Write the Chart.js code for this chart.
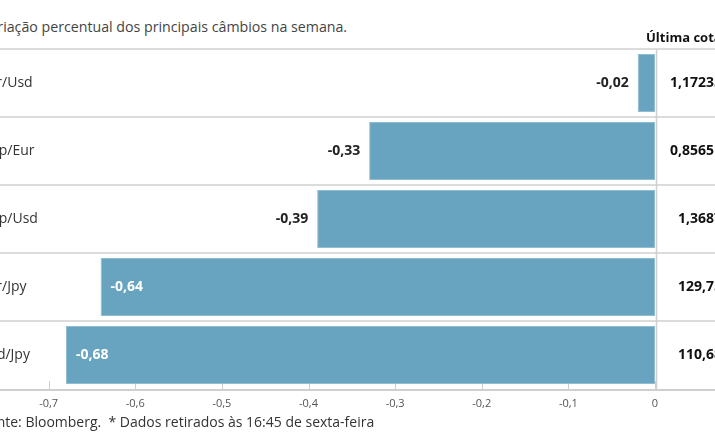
<!DOCTYPE html>
<html>
<head>
<meta charset="utf-8">
<script src="https://cdn.jsdelivr.net/npm/chart.js@4.4.1/dist/chart.umd.min.js"></script>
<style>
  html, body { margin: 0; padding: 0; background: #fff; }
  body { width: 715px; height: 445px; overflow: hidden; position: relative; font-family: 'Open Sans', sans-serif; }
  #title { position: absolute; left: -19px; top: 18px; font-size: 14.2px; line-height: 18px; color: #444; white-space: nowrap; }
  #note { position: absolute; left: -19px; top: 413px; font-size: 14px; line-height: 18px; color: #333; white-space: nowrap; }
  #wrap { position: absolute; left: -60px; top: 0; width: 840px; height: 445px; }
</style>
</head>
<body>
<div id="title">Variação percentual dos principais câmbios na semana.</div>
<div id="wrap"><canvas id="chart"></canvas></div>
<div id="note">Fonte: Bloomberg.&nbsp; * Dados retirados às 16:45 de sexta-feira</div>
<script>
// Câmbios — variação semanal

var categories = ['Eur/Usd', 'Gbp/Eur', 'Gbp/Usd', 'Eur/Jpy', 'Usd/Jpy'];
var changes = [-0.02, -0.33, -0.39, -0.64, -0.68];
var quotes = ['1,17235', '0,85651', '1,3687', '129,75', '110,68'];
var quoteHeader = 'Última cotação*';

var FONT = "'Open Sans', sans-serif";
var COLORS = {
  bar: '#68a3bf',
  barEdge: '#8fbdd2',
  grid: '#dcdcdc',
  axis: '#cfcfcf',
  text: '#333',
  tick: '#555'
};

function fmt(n) {
  if (n === 0) return '0';
  return n.toFixed(2).replace('.', ',');
}

var tablePlugin = {
  id: 'tablePlugin',
  beforeDatasetsDraw: function (chart) {
    var ctx = chart.ctx, area = chart.chartArea;
    var ys = chart.scales.y, xs = chart.scales.x;
    var w = chart.width;
    ctx.save();
    // row separators
    ctx.strokeStyle = COLORS.grid;
    ctx.lineWidth = 2;
    var bounds = [area.top];
    for (var i = 0; i < categories.length - 1; i++) {
      bounds.push((ys.getPixelForValue(i) + ys.getPixelForValue(i + 1)) / 2);
    }
    bounds.forEach(function (y) {
      ctx.beginPath();
      ctx.moveTo(0, y);
      ctx.lineTo(w, y);
      ctx.stroke();
    });
    // axis line
    ctx.strokeStyle = COLORS.axis;
    ctx.beginPath();
    ctx.moveTo(0, area.bottom + 1);
    ctx.lineTo(w, area.bottom + 1);
    ctx.stroke();
    // column divider at zero
    var x0 = xs.getPixelForValue(0) + 1.5;
    ctx.lineWidth = 1.5;
    ctx.beginPath();
    ctx.moveTo(x0, area.top);
    ctx.lineTo(x0, area.bottom + 1);
    ctx.stroke();
    // tick marks pointing up
    ctx.lineWidth = 1;
    xs.ticks.forEach(function (t) {
      var x = Math.round(xs.getPixelForValue(t.value)) + 0.5;
      ctx.beginPath();
      ctx.moveTo(x, area.bottom - 8);
      ctx.lineTo(x, area.bottom);
      ctx.stroke();
    });
    ctx.restore();
  },
  afterDatasetsDraw: function (chart) {
    var ctx = chart.ctx, area = chart.chartArea;
    var ys = chart.scales.y, xs = chart.scales.x;
    var meta = chart.getDatasetMeta(0);
    var x0 = xs.getPixelForValue(0);
    ctx.save();
    ctx.textBaseline = 'middle';
    categories.forEach(function (c, i) {
      var y = ys.getPixelForValue(i);
      // category label
      ctx.font = '14px ' + FONT;
      ctx.fillStyle = COLORS.text;
      ctx.textAlign = 'left';
      ctx.fillText(c, 40, y);
      // value label
      var bar = meta.data[i];
      ctx.font = 'bold 14px ' + FONT;
      if (bar.base - bar.x > 450) {
        ctx.fillStyle = '#fff';
        ctx.textAlign = 'left';
        ctx.fillText(fmt(changes[i]), bar.x + 10, y);
      } else {
        ctx.fillStyle = '#222';
        ctx.textAlign = 'right';
        ctx.fillText(fmt(changes[i]), bar.x - 9, y);
      }
      // last quote
      ctx.fillStyle = '#111';
      ctx.textAlign = 'right';
      ctx.fillText(quotes[i], x0 + 67, y);
    });
    ctx.font = 'bold 13px ' + FONT;
    ctx.fillStyle = '#111';
    ctx.textAlign = 'left';
    ctx.textBaseline = 'alphabetic';
    ctx.fillText(quoteHeader, x0 - 9, area.top - 7);
    ctx.restore();
  }
};

new Chart(document.getElementById('chart'), {
  type: 'bar',
  data: {
    labels: categories,
    datasets: [{
      data: changes,
      backgroundColor: COLORS.bar,
      borderColor: COLORS.barEdge,
      borderWidth: 1,
      borderSkipped: false,
      barPercentage: 0.855,
      categoryPercentage: 1
    }]
  },
  options: {
    indexAxis: 'y',
    responsive: true,
    maintainAspectRatio: false,
    animation: false,
    layout: { padding: { top: 49, left: 22, right: 125, bottom: 0 } },
    plugins: { legend: { display: false }, tooltip: { enabled: false } },
    scales: {
      x: {
        min: -0.8,
        max: 0,
        grid: { display: false, drawTicks: false },
        border: { display: false },
        afterFit: function (s) { s.height = 56; },
        ticks: {
          stepSize: 0.1,
          autoSkip: false,
          maxRotation: 0,
          padding: 8,
          color: COLORS.tick,
          font: { family: FONT, size: 11 },
          callback: function (v) {
            var r = Math.round(v * 10) / 10;
            return r === 0 ? '0' : r.toFixed(1).replace('.', ',');
          }
        }
      },
      y: { display: false }
    }
  },
  plugins: [tablePlugin]
});
</script>
</body>
</html>
